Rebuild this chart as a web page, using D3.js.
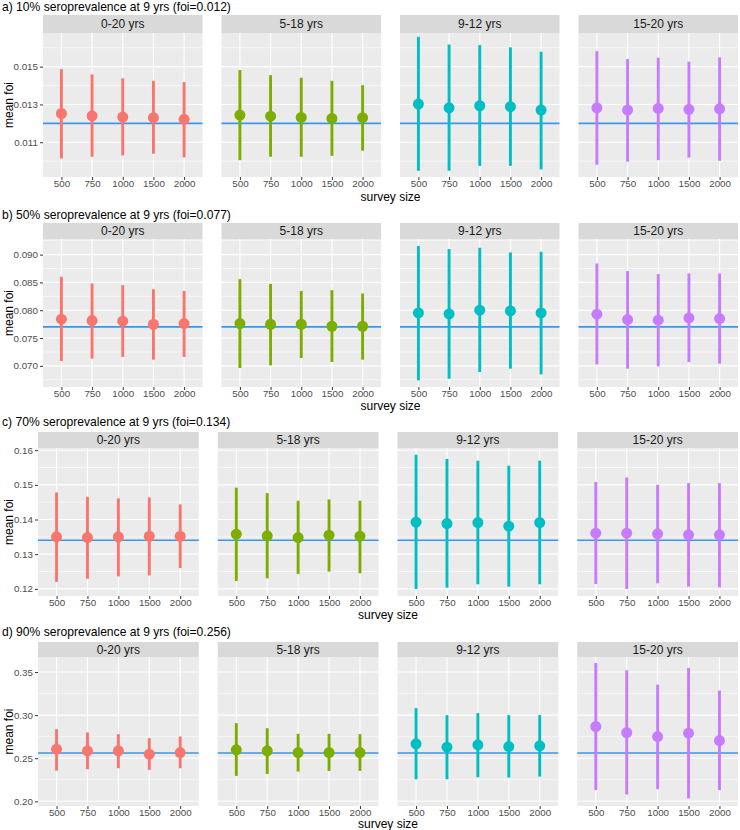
<!DOCTYPE html>
<html>
<head>
<meta charset="utf-8">
<script src="https://cdn.jsdelivr.net/npm/d3@7"></script>
<style>
  html, body { margin: 0; padding: 0; background: #ffffff; }
  svg { display: block; font-family: "Liberation Sans", Arial, Helvetica, sans-serif; }
</style>
</head>
<body>
<svg id="chart" width="740" height="830"></svg>
<script>
// ---------------- DATA ----------------
const ageGroups = ["0-20 yrs", "5-18 yrs", "9-12 yrs", "15-20 yrs"];
const surveySizes = ["500", "750", "1000", "1500", "2000"];
const groupColors = ["#F8766D", "#7CAE00", "#00BFC4", "#C77CFF"];

const scenarioTitles = [
  "a) 10% seroprevalence at 9 yrs (foi=0.012)",
  "b) 50% seroprevalence at 9 yrs (foi=0.077)",
  "c) 70% seroprevalence at 9 yrs (foi=0.134)",
  "d) 90% seroprevalence at 9 yrs (foi=0.256)"
];
const trueFoi = [0.012, 0.077, 0.134, 0.256];

const yTickLabelsA = ["0.011", "0.013", "0.015"];
const yTickLabelsB = ["0.070", "0.075", "0.080", "0.085", "0.090"];
const yTickLabelsC = ["0.12", "0.13", "0.14", "0.15", "0.16"];
const yTickLabelsD = ["0.20", "0.25", "0.30", "0.35"];
const yMinorA = [0.010, 0.012, 0.014, 0.016];
const yMinorB = [0.0675, 0.0725, 0.0775, 0.0825, 0.0875, 0.0925];
const yMinorC = [0.125, 0.135, 0.145, 0.155];
const yMinorD = [0.225, 0.275, 0.325];

// scenario a (10%)
const meanA = [
  [0.01252, 0.0124, 0.01233, 0.0123, 0.01221],
  [0.01244, 0.01238, 0.01231, 0.01226, 0.0123],
  [0.01302, 0.01282, 0.01293, 0.01288, 0.0127],
  [0.01282, 0.0127, 0.01279, 0.01274, 0.01277]
];
const lowerA = [
  [0.01014, 0.01023, 0.0103, 0.01039, 0.0102],
  [0.01005, 0.01023, 0.01023, 0.01028, 0.01055],
  [0.00949, 0.00949, 0.00975, 0.00975, 0.00956],
  [0.00981, 0.00997, 0.01005, 0.01018, 0.01002]
];
const upperA = [
  [0.01487, 0.01459, 0.01438, 0.01425, 0.01418],
  [0.01482, 0.01455, 0.01441, 0.01425, 0.01402],
  [0.01658, 0.01617, 0.01614, 0.01602, 0.01579],
  [0.01582, 0.0154, 0.01547, 0.01526, 0.01549]
];

// scenario b (50%)
const meanB = [
  [0.07838, 0.07814, 0.07802, 0.07748, 0.0776],
  [0.0776, 0.07748, 0.07748, 0.07712, 0.07712],
  [0.07952, 0.07934, 0.0800, 0.07988, 0.07952],
  [0.07928, 0.07832, 0.0782, 0.07862, 0.0785]
];
const lowerB = [
  [0.07087, 0.07129, 0.07159, 0.07111, 0.07159],
  [0.06961, 0.07009, 0.07141, 0.07069, 0.07111],
  [0.06739, 0.06769, 0.06889, 0.06949, 0.06847],
  [0.07027, 0.06949, 0.06991, 0.07069, 0.07039]
];
const upperB = [
  [0.08601, 0.0848, 0.0845, 0.08378, 0.08348],
  [0.08559, 0.08474, 0.08348, 0.0836, 0.0830],
  [0.09153, 0.09099, 0.09123, 0.09039, 0.09051],
  [0.08841, 0.08703, 0.08649, 0.08661, 0.08661]
];

// scenario c (70%)
const meanC = [
  [0.1350, 0.1348, 0.1350, 0.13517, 0.13517],
  [0.13576, 0.13528, 0.1348, 0.13547, 0.13518],
  [0.13923, 0.13884, 0.13913, 0.13807, 0.13913],
  [0.13605, 0.13605, 0.13586, 0.13557, 0.13557]
];
const lowerC = [
  [0.1220, 0.1229, 0.12357, 0.12386, 0.12599],
  [0.12227, 0.12304, 0.12429, 0.12496, 0.12448],
  [0.11995, 0.12034, 0.1213, 0.12063, 0.1213],
  [0.1214, 0.11995, 0.12159, 0.12063, 0.12043]
];
const upperC = [
  [0.14783, 0.14657, 0.14609, 0.14638, 0.14435],
  [0.1492, 0.1476, 0.1454, 0.1458, 0.1454],
  [0.1587, 0.15745, 0.15696, 0.15552, 0.15696],
  [0.1508, 0.15214, 0.15002, 0.15051, 0.15051]
];

// scenario d (90%)
const meanD = [
  [0.26047, 0.25853, 0.25853, 0.25465, 0.25659],
  [0.25969, 0.25853, 0.25659, 0.25659, 0.25659],
  [0.26667, 0.26279, 0.2655, 0.26357, 0.26434],
  [0.2868, 0.2798, 0.2751, 0.2790, 0.2705]
];
const lowerD = [
  [0.23566, 0.23721, 0.23837, 0.23643, 0.23837],
  [0.22946, 0.23178, 0.2345, 0.23527, 0.23527],
  [0.22558, 0.22558, 0.22791, 0.22752, 0.22868],
  [0.2130, 0.2079, 0.2141, 0.2033, 0.2130]
];
const upperD = [
  [0.28372, 0.2800, 0.27791, 0.27326, 0.2752],
  [0.2907, 0.28488, 0.2783, 0.2783, 0.27791],
  [0.30814, 0.3000, 0.30233, 0.3000, 0.3000],
  [0.3606, 0.3521, 0.3354, 0.3548, 0.3284]
];

const yDomains = [
  [0.00916, 0.01678],
  [0.0662, 0.0928],
  [0.11793, 0.16063],
  [0.19457, 0.36744]
];

// ---------------- LAYOUT ----------------
const scenarios = [
  { title: scenarioTitles[0], foi: trueFoi[0], ticks: yTickLabelsA, minor: yMinorA, mean: meanA, lo: lowerA, hi: upperA, dom: yDomains[0] },
  { title: scenarioTitles[1], foi: trueFoi[1], ticks: yTickLabelsB, minor: yMinorB, mean: meanB, lo: lowerB, hi: upperB, dom: yDomains[1] },
  { title: scenarioTitles[2], foi: trueFoi[2], ticks: yTickLabelsC, minor: yMinorC, mean: meanC, lo: lowerC, hi: upperC, dom: yDomains[2] },
  { title: scenarioTitles[3], foi: trueFoi[3], ticks: yTickLabelsD, minor: yMinorD, mean: meanD, lo: lowerD, hi: upperD, dom: yDomains[3] }
];
const rowLayout = [
  { titleY: 11,  stripTop: 15,  panelTop: 33,  panelBottom: 177, left: 43, xTitleY: 201 },
  { titleY: 219, stripTop: 223, panelTop: 239, panelBottom: 387, left: 43, xTitleY: 409.5 },
  { titleY: 426, stripTop: 432, panelTop: 448, panelBottom: 596, left: 38, xTitleY: 619 },
  { titleY: 636, stripTop: 642, panelTop: 657, panelBottom: 806, left: 38, xTitleY: 828 }
];
const rightEdge = 738;
const gap = 19;

const svg = d3.select("#chart");

scenarios.forEach((sc, r) => {
  const L = rowLayout[r];
  const g = svg.append("g");
  const pw = (rightEdge - L.left - 3 * gap) / 4;

  // title
  g.append("text")
    .attr("x", 2).attr("y", L.titleY)
    .attr("font-size", 12.1).attr("fill", "#000")
    .text(sc.title);

  const y = d3.scaleLinear().domain(sc.dom).range([L.panelBottom, L.panelTop]);

  // y axis title
  const ymid = (L.panelTop + L.panelBottom) / 2;
  g.append("text")
    .attr("transform", `translate(13,${ymid}) rotate(-90)`)
    .attr("text-anchor", "middle")
    .attr("font-size", 12).attr("fill", "#000")
    .text("mean foi");

  // y axis (left of first panel)
  const yAxis = d3.axisLeft(y)
    .tickValues(sc.ticks.map(Number))
    .tickFormat((d, i) => sc.ticks[i])
    .tickSize(3).tickPadding(2);
  const ya = g.append("g").attr("transform", `translate(${L.left},0)`).call(yAxis);
  ya.select(".domain").remove();
  ya.selectAll(".tick line").attr("stroke", "#333333").attr("stroke-width", 1);
  ya.selectAll(".tick text").attr("fill", "#4D4D4D").attr("font-size", 9.8)
    .attr("font-family", "'Liberation Sans', Arial, sans-serif");

  ageGroups.forEach((grp, p) => {
    const x0 = L.left + p * (pw + gap);
    const x = d3.scalePoint().domain(surveySizes).range([x0, x0 + pw]).padding(0.6);

    // strip
    g.append("rect").attr("x", x0).attr("y", L.stripTop)
      .attr("width", pw).attr("height", L.panelTop - L.stripTop)
      .attr("fill", "#D9D9D9");
    g.append("text")
      .attr("x", x0 + pw / 2).attr("y", (L.stripTop + L.panelTop) / 2 + 4.2)
      .attr("text-anchor", "middle").attr("font-size", 12).attr("fill", "#1A1A1A")
      .text(grp);

    // panel background
    g.append("rect").attr("x", x0).attr("y", L.panelTop)
      .attr("width", pw).attr("height", L.panelBottom - L.panelTop)
      .attr("fill", "#EBEBEB");

    // minor grid
    g.selectAll(null).data(sc.minor.filter(v => v > sc.dom[0] && v < sc.dom[1])).enter()
      .append("line")
      .attr("x1", x0).attr("x2", x0 + pw)
      .attr("y1", d => y(d)).attr("y2", d => y(d))
      .attr("stroke", "#ffffff").attr("stroke-width", 0.55);
    // major grid
    g.selectAll(null).data(sc.ticks.map(Number)).enter()
      .append("line")
      .attr("x1", x0).attr("x2", x0 + pw)
      .attr("y1", d => y(d)).attr("y2", d => y(d))
      .attr("stroke", "#ffffff").attr("stroke-width", 1.1);
    g.selectAll(null).data(surveySizes).enter()
      .append("line")
      .attr("x1", d => x(d)).attr("x2", d => x(d))
      .attr("y1", L.panelTop).attr("y2", L.panelBottom)
      .attr("stroke", "#ffffff").attr("stroke-width", 1.1);

    // x axis
    const xAxis = d3.axisBottom(x).tickSize(3).tickPadding(0);
    const xa = g.append("g").attr("transform", `translate(0,${L.panelBottom})`).call(xAxis);
    xa.select(".domain").remove();
    xa.selectAll(".tick line").attr("stroke", "#333333").attr("stroke-width", 1);
    xa.selectAll(".tick text").attr("fill", "#4D4D4D").attr("font-size", 9.8)
      .attr("font-family", "'Liberation Sans', Arial, sans-serif");

    // reference line
    g.append("line")
      .attr("x1", x0).attr("x2", x0 + pw)
      .attr("y1", y(sc.foi)).attr("y2", y(sc.foi))
      .attr("stroke", "#3A97EA").attr("stroke-width", 1.6);

    const rows = surveySizes.map((s, i) => ({ s, m: sc.mean[p][i], lo: sc.lo[p][i], hi: sc.hi[p][i] }));
    // error bars
    g.selectAll(null).data(rows).enter()
      .append("line")
      .attr("x1", d => x(d.s)).attr("x2", d => x(d.s))
      .attr("y1", d => y(d.lo)).attr("y2", d => y(d.hi))
      .attr("stroke", groupColors[p]).attr("stroke-width", 2.9);
    // points
    g.selectAll(null).data(rows).enter()
      .append("circle")
      .attr("cx", d => x(d.s)).attr("cy", d => y(d.m))
      .attr("r", 5.5)
      .attr("fill", groupColors[p]);
  });

  // x axis title
  g.append("text")
    .attr("x", (L.left + rightEdge) / 2).attr("y", L.xTitleY)
    .attr("text-anchor", "middle").attr("font-size", 12).attr("fill", "#000")
    .text("survey size");
});
</script>
</body>
</html>
